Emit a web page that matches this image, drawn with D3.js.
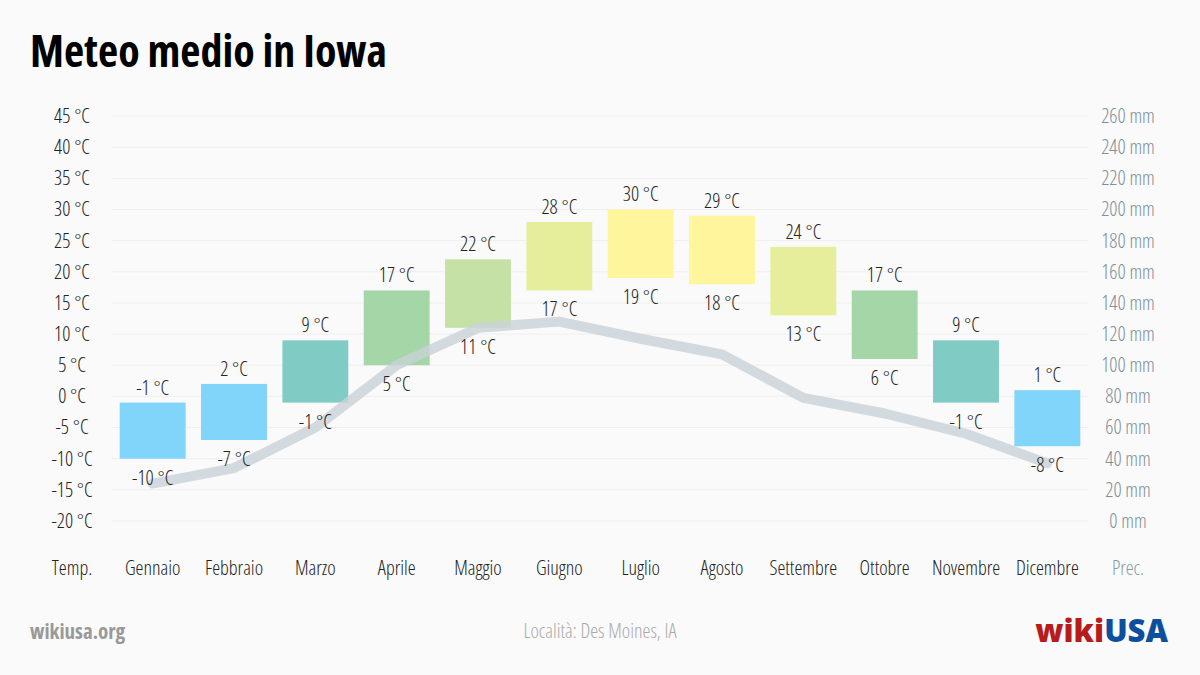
<!DOCTYPE html>
<head>
  <meta charset="utf-8">
  <script src="https://d3js.org/d3.v7.min.js"></script>
  <style>
    body {
      margin: 0;
      background: #fafafa;
    }
    text {
      font-family: 'Open Sans', sans-serif;
      font-stretch: 75%;
      font-weight: 350;
      font-size: 20px;
    }
    .grid line {
      stroke: #efefef;
      stroke-width: 1px;
    }
  </style>
</head>

<body>
  <div id="chart"></div>

  <script>
    var months = ["Gennaio", "Febbraio", "Marzo", "Aprile", "Maggio", "Giugno",
      "Luglio", "Agosto", "Settembre", "Ottobre", "Novembre", "Dicembre"];
    var tempMax = [-1, 2, 9, 17, 22, 28, 30, 29, 24, 17, 9, 1];
    var tempMin = [-10, -7, -1, 5, 11, 17, 19, 18, 13, 6, -1, -8];
    var precip = [24, 34, 60, 100, 124, 128, 117, 107, 79, 69, 56, 37];
    var tempTicks = [45, 40, 35, 30, 25, 20, 15, 10, 5, 0, -5, -10, -15, -20];
    var precTicks = [260, 240, 220, 200, 180, 160, 140, 120, 100, 80, 60, 40, 20, 0];

    var W = 1200, H = 675;
    var top_ = 116, bottom = 521, left = 112, right = 1088;

    var svg = d3.select("#chart")
      .append("svg")
      .attr("width", W)
      .attr("height", H);

    var x = d3.scaleBand()
      .domain(months)
      .range([left, right])
      .paddingInner(0.19)
      .paddingOuter(0.095);

    var y = d3.scaleLinear()
      .domain([-20, 45])
      .range([bottom, top_]);

    var y2 = d3.scaleLinear()
      .domain([0, 260])
      .range([bottom, top_]);

    // colour by max temperature
    function barColor(t) {
      if (t <= 5) return "#81d4fa";
      if (t <= 12) return "#80cbc4";
      if (t <= 19) return "#a5d6a7";
      if (t <= 22) return "#c5e1a5";
      if (t <= 28) return "#e6ee9c";
      return "#fff59d";
    }

    // title
    svg.append("text")
      .attr("x", 30)
      .attr("y", 67)
      .style("font-size", "44px")
      .style("font-weight", 700)
      .attr("fill", "#000")
      .text("Meteo medio in Iowa");

    // grid
    svg.append("g")
      .attr("class", "grid")
      .selectAll("line")
      .data(tempTicks)
      .join("line")
      .attr("x1", left)
      .attr("x2", right)
      .attr("y1", d => y(d))
      .attr("y2", d => y(d));

    // left axis (labels centred in the margin)
    var yAxis = svg.append("g")
      .attr("transform", `translate(72,0)`)
      .call(d3.axisLeft(y).tickValues(tempTicks).tickSize(0).tickPadding(0)
        .tickFormat(d => d + " °C"));
    yAxis.select(".domain").remove();
    yAxis.selectAll("text")
      .attr("fill", "#222")
      .attr("text-anchor", "middle")
      .style("font-size", "20px");

    // right axis
    var y2Axis = svg.append("g")
      .attr("transform", `translate(1128,0)`)
      .call(d3.axisRight(y2).tickValues(precTicks).tickSize(0).tickPadding(0)
        .tickFormat(d => d + " mm"));
    y2Axis.select(".domain").remove();
    y2Axis.selectAll("text")
      .attr("fill", "#7d8f99")
      .attr("text-anchor", "middle")
      .style("font-size", "20px");

    // bars
    svg.append("g")
      .selectAll("rect")
      .data(months)
      .join("rect")
      .attr("x", d => x(d))
      .attr("width", x.bandwidth())
      .attr("y", (d, i) => y(tempMax[i]))
      .attr("height", (d, i) => y(tempMin[i]) - y(tempMax[i]))
      .attr("fill", (d, i) => barColor(tempMax[i]));

    // precipitation line
    var line = d3.line()
      .x((d, i) => x(months[i]) + x.bandwidth() / 2)
      .y(d => y2(d));

    svg.append("path")
      .datum(precip)
      .attr("d", line)
      .attr("fill", "none")
      .attr("stroke", "#c9d2d8")
      .attr("stroke-opacity", 0.8)
      .attr("stroke-width", 10)
      .attr("stroke-linecap", "round")
      .attr("stroke-linejoin", "round");

    // value labels
    var labels = svg.append("g")
      .attr("text-anchor", "middle")
      .attr("fill", "#222");

    labels.selectAll(".max")
      .data(months)
      .join("text")
      .attr("x", d => x(d) + x.bandwidth() / 2)
      .attr("y", (d, i) => y(tempMax[i]) - 8)
      .text((d, i) => tempMax[i] + " °C");

    labels.selectAll(".min")
      .data(months)
      .join("text")
      .attr("class", "min")
      .attr("x", d => x(d) + x.bandwidth() / 2)
      .attr("y", (d, i) => y(tempMin[i]) + 26)
      .text((d, i) => tempMin[i] + " °C");

    // month labels
    var xAxis = svg.append("g")
      .attr("transform", `translate(0,568)`)
      .call(d3.axisBottom(x).tickSize(0).tickPadding(0));
    xAxis.select(".domain").remove();
    xAxis.selectAll("text")
      .attr("fill", "#222")
      .attr("dy", "0.35em")
      .style("font-size", "20px");

    svg.append("text")
      .attr("x", 72)
      .attr("y", 575)
      .attr("text-anchor", "middle")
      .attr("fill", "#222")
      .text("Temp.");

    svg.append("text")
      .attr("x", 1128)
      .attr("y", 575)
      .attr("text-anchor", "middle")
      .attr("fill", "#8a9ba5")
      .text("Prec.");

    // footer
    svg.append("text")
      .attr("x", 30)
      .attr("y", 639)
      .attr("fill", "#999")
      .style("font-weight", 700)
      .style("font-size", "21px")
      .text("wikiusa.org");

    svg.append("text")
      .attr("x", 600)
      .attr("y", 638)
      .attr("text-anchor", "middle")
      .attr("fill", "#aaa")
      .style("font-size", "20px")
      .style("font-weight", 300)
      .text("Località: Des Moines, IA");

    var logo = svg.append("text")
      .attr("x", 1168)
      .attr("y", 642)
      .attr("text-anchor", "end")
      .style("font-size", "31px")
      .style("font-weight", 800)
      .style("font-stretch", "100%");
    logo.append("tspan").attr("fill", "#b71c1c").text("wiki");
    logo.append("tspan").attr("fill", "#0d4f9c").text("USA");
  </script>
</body>
